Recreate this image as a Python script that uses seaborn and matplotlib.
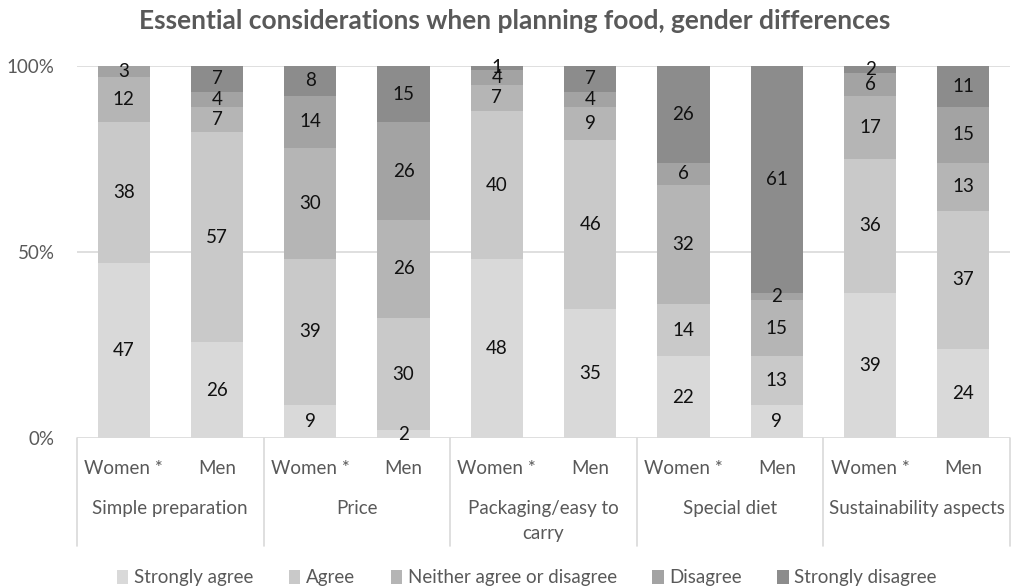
import matplotlib
matplotlib.use("Agg")
import matplotlib.pyplot as plt
import matplotlib.transforms as mtransforms
from matplotlib.patches import Patch
import seaborn as sns
import numpy as np
import pandas as pd

categories = ["Simple preparation", "Price", "Packaging/easy to\ncarry", "Special diet", "Sustainability aspects"]
genders = ["Women *", "Men"]
levels = ["Strongly agree", "Agree", "Neither agree or disagree", "Disagree", "Strongly disagree"]

strongly_agree = [47, 26, 9, 2, 48, 35, 22, 9, 39, 24]
agree = [38, 57, 39, 30, 40, 46, 14, 13, 36, 37]
neither = [12, 7, 30, 26, 7, 9, 32, 15, 17, 13]
disagree = [3, 4, 14, 26, 4, 4, 6, 2, 6, 15]
strongly_disagree = [0, 7, 8, 15, 1, 7, 26, 61, 2, 11]

colors = ["#d9d9d9", "#c9c9c9", "#b5b5b5", "#a3a3a3", "#8c8c8c"]
text_gray = "#595959"
grid_gray = "#d9d9d9"
fs = 13.5

sns.set_theme(style="white")
plt.rcParams["font.family"] = ["Lato", "DejaVu Sans"]

series = [strongly_agree, agree, neither, disagree, strongly_disagree]
bar_names = [f"{c}|{g}" for c in categories for g in genders]
raw = np.array(series, dtype=float)
totals = raw.sum(axis=0)
frac = raw / totals * 100

fig = plt.figure(figsize=(10.14, 5.88), dpi=100)
ax = fig.add_axes([77 / 1014, 1 - 438 / 588, (1010 - 77) / 1014, (438 - 66) / 588])

for y in [0, 50, 100]:
    ax.axhline(y, color=grid_gray, lw=1.2, zorder=0)

bottom = np.zeros(len(bar_names))
for i, lvl in enumerate(levels):
    df = pd.DataFrame({"bar": bar_names, "value": frac[i], "bottom": bottom})
    sns.barplot(data=df, x="bar", y="value", order=bar_names, color=colors[i],
                bottom=df["bottom"].values, width=0.56, ax=ax, zorder=2,
                saturation=1, linewidth=0)
    for j in range(len(bar_names)):
        if raw[i, j] > 0:
            ax.text(j, bottom[j] + frac[i, j] / 2, f"{int(raw[i, j])}",
                    ha="center", va="center", fontsize=fs, color="#111111", zorder=3)
    bottom = bottom + frac[i]

ax.set_xlim(-0.5, len(bar_names) - 0.5)
ax.set_ylim(0, 100)
ax.set_yticks([0, 50, 100])
ax.set_yticklabels(["0%", "50%", "100%"], color=text_gray, fontsize=fs)
ax.tick_params(axis="y", length=0, pad=16)
ax.set_xticks(range(len(bar_names)))
ax.set_xticklabels([g for c in categories for g in genders], color=text_gray, fontsize=fs)
ax.tick_params(axis="x", length=0, pad=16)
ax.set_xlabel("")
ax.set_ylabel("")
for s in ax.spines.values():
    s.set_visible(False)

trans = mtransforms.blended_transform_factory(ax.transData, fig.transFigure)
for k in range(len(categories) + 1):
    xk = 2 * k - 0.5
    ax.plot([xk, xk], [1 - 438 / 588, 1 - 546 / 588], transform=trans, color=grid_gray,
            lw=1.2, clip_on=False, zorder=1)
for k, c in enumerate(categories):
    ax.text(2 * k + 0.5, 1 - 500 / 588, c, transform=trans, ha="center", va="top",
            fontsize=fs, color=text_gray, linespacing=1.55)

fig.suptitle("Essential considerations when planning food, gender differences",
             x=515 / 1014, y=1 - 21 / 588, va="center", fontsize=19,
             fontweight="bold", color=text_gray)

handles = [Patch(facecolor=colors[i], edgecolor="none", label=levels[i]) for i in range(5)]
fig.legend(handles=handles, loc="center", bbox_to_anchor=(527 / 1014, 1 - 578 / 588),
           ncol=5, frameon=False, fontsize=fs, labelcolor=text_gray,
           handlelength=0.6, handleheight=0.7, handletextpad=0.3, columnspacing=1.9)

fig.savefig("out.png", dpi=100)
